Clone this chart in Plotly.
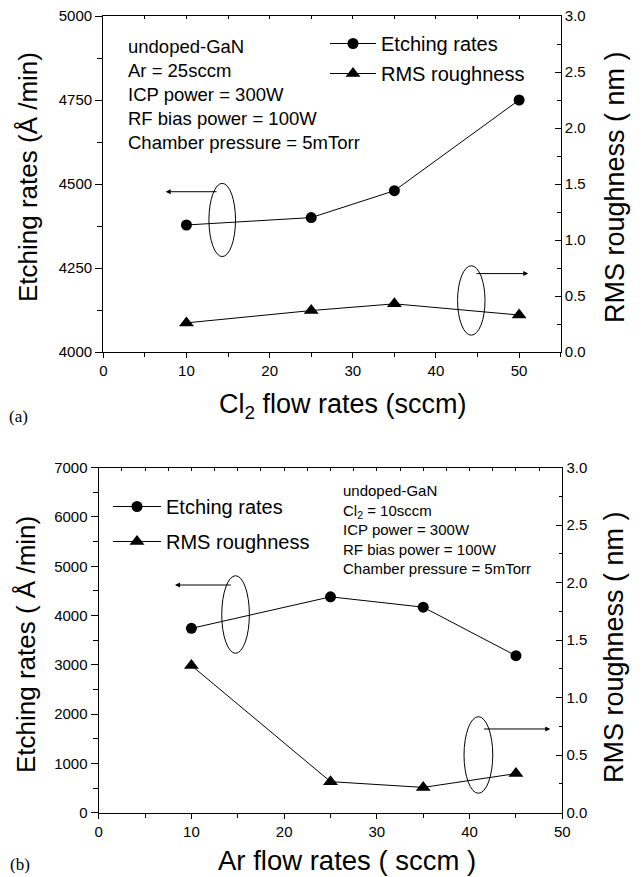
import plotly.graph_objects as go

# ---------------- data ----------------
cl2_flow = [10, 25, 35, 50]
etch_a = [4378, 4400, 4480, 4750]
rms_a = [0.26, 0.37, 0.43, 0.33]

ar_flow = [10, 25, 35, 45]
etch_b = [3740, 4380, 4170, 3185]
rms_b = [1.28, 0.27, 0.22, 0.34]

series_names = ["Etching rates", "RMS roughness"]
cond_a = ["undoped-GaN", "Ar = 25sccm", "ICP power = 300W",
          "RF bias power = 100W", "Chamber pressure = 5mTorr"]
cond_b = ["undoped-GaN", "Cl<sub>2</sub> = 10sccm", "ICP power = 300W",
          "RF bias power = 100W", "Chamber pressure = 5mTorr"]

# ---------------- layout helpers ----------------
W, H = 643, 877
FONT = "Liberation Sans, Arial, sans-serif"


def px(x):
    return x / W


def py(y):
    return 1 - y / H


black = "black"
line_style = dict(color=black, width=1)

fig = go.Figure()

fig.add_trace(go.Scatter(x=cl2_flow, y=etch_a, mode="lines+markers", name=series_names[0],
                         line=line_style, marker=dict(symbol="circle", size=11, color=black),
                         xaxis="x", yaxis="y", legend="legend", legendgroup="a1"))
fig.add_trace(go.Scatter(x=cl2_flow, y=rms_a, mode="lines+markers", name=series_names[1],
                         line=line_style, marker=dict(symbol="triangle-up", size=13, color=black),
                         xaxis="x2", yaxis="y2", legend="legend", legendgroup="a2"))
fig.add_trace(go.Scatter(x=ar_flow, y=etch_b, mode="lines+markers", name=series_names[0],
                         line=line_style, marker=dict(symbol="circle", size=11, color=black),
                         xaxis="x3", yaxis="y3", legend="legend2", legendgroup="b1"))
fig.add_trace(go.Scatter(x=ar_flow, y=rms_b, mode="lines+markers", name=series_names[1],
                         line=line_style, marker=dict(symbol="triangle-up", size=13, color=black),
                         xaxis="x4", yaxis="y4", legend="legend2", legendgroup="b2"))

tickfont = dict(family=FONT, size=15, color=black)
common = dict(showgrid=False, zeroline=False, showline=True, linecolor=black, linewidth=1.3,
              tickcolor=black, tickwidth=1, tickfont=tickfont, automargin=False,
              ticklabeloverflow="allow")

top_xdom = [px(103.3), px(560.7)]
top_ydom = [py(352), py(16)]
bot_xdom = [px(98.7), px(562.3)]
bot_ydom = [py(812.7), py(467.7)]

fig.update_layout(
    template="none",
    width=W, height=H, margin=dict(l=0, r=0, t=0, b=0, pad=0, autoexpand=False),
    paper_bgcolor="white", plot_bgcolor="white",
    font=dict(family=FONT, color=black),
    hovermode=False,
    xaxis=dict(domain=top_xdom, anchor="y", range=[0, 55], tick0=0, dtick=10,
               ticks="outside", ticklen=5,
               minor=dict(dtick=5, ticks="outside", ticklen=4, tickcolor=black), **common),
    xaxis2=dict(domain=top_xdom, anchor="y2", overlaying="x", side="top", range=[0, 55],
                tick0=0, dtick=5, ticks="inside", ticklen=3, showticklabels=False, **common),
    yaxis=dict(domain=top_ydom, anchor="x", range=[4000, 5000], tick0=4000, dtick=250,
               ticks="outside", ticklen=7,
               minor=dict(dtick=125, ticks="outside", ticklen=5, tickcolor=black), **common),
    yaxis2=dict(domain=top_ydom, anchor="x2", overlaying="y", side="right", range=[0, 3],
                tick0=0, dtick=0.5, tickformat=".1f", ticks="inside", ticklen=6,
                minor=dict(dtick=0.25, ticks="inside", ticklen=3.5, tickcolor=black), **common),
    xaxis3=dict(domain=bot_xdom, anchor="y3", range=[0, 50], tick0=0, dtick=10,
                ticks="outside", ticklen=5,
                minor=dict(dtick=5, ticks="outside", ticklen=4, tickcolor=black), **common),
    xaxis4=dict(domain=bot_xdom, anchor="y4", overlaying="x3", side="top", range=[0, 50],
                tick0=0, dtick=2.5, ticks="inside", ticklen=3, showticklabels=False, **common),
    yaxis3=dict(domain=bot_ydom, anchor="x3", range=[0, 7000], tick0=0, dtick=1000,
                ticks="outside", ticklen=7,
                minor=dict(dtick=500, ticks="outside", ticklen=5, tickcolor=black), **common),
    yaxis4=dict(domain=bot_ydom, anchor="x4", overlaying="y3", side="right", range=[0, 3],
                tick0=0, dtick=0.5, tickformat=".1f", ticks="inside", ticklen=6,
                minor=dict(dtick=0.25, ticks="inside", ticklen=3.5, tickcolor=black), **common),
    legend=dict(x=px(325), y=py(24), xanchor="left", yanchor="top", bgcolor="rgba(0,0,0,0)",
                font=dict(family=FONT, size=20, color=black), itemwidth=46, borderwidth=0,
                traceorder="grouped", tracegroupgap=1),
    legend2=dict(x=px(108), y=py(487), xanchor="left", yanchor="top", bgcolor="rgba(0,0,0,0)",
                 font=dict(family=FONT, size=20, color=black), itemwidth=48, borderwidth=0,
                 traceorder="grouped", tracegroupgap=6),
    showlegend=True,
)

annotations = []
annotations += [
    dict(text="Etching rates (Å /min)", x=px(28), y=py(177), xref="paper", yref="paper",
         textangle=-90, showarrow=False, font=dict(size=26), xanchor="center", yanchor="middle"),
    dict(text="RMS roughness ( nm )", x=px(615), y=py(187), xref="paper", yref="paper",
         textangle=-90, showarrow=False, font=dict(size=27), xanchor="center", yanchor="middle"),
    dict(text="Cl<sub>2</sub> flow rates (sccm)", x=px(343), y=py(406), xref="paper", yref="paper",
         showarrow=False, font=dict(size=27), xanchor="center", yanchor="middle"),
    dict(text="(a)", x=px(18), y=py(416), xref="paper", yref="paper", showarrow=False,
         font=dict(size=17, family="Liberation Serif, Times New Roman, serif"),
         xanchor="center", yanchor="middle"),
    dict(text="Etching rates ( Å /min)", x=px(26), y=py(645), xref="paper", yref="paper",
         textangle=-90, showarrow=False, font=dict(size=26), xanchor="center", yanchor="middle"),
    dict(text="RMS roughness ( nm )", x=px(614), y=py(647), xref="paper", yref="paper",
         textangle=-90, showarrow=False, font=dict(size=27), xanchor="center", yanchor="middle"),
    dict(text="Ar flow rates ( sccm )", x=px(347), y=py(860), xref="paper", yref="paper",
         showarrow=False, font=dict(size=27.5), xanchor="center", yanchor="middle"),
    dict(text="(b)", x=px(20), y=py(864), xref="paper", yref="paper", showarrow=False,
         font=dict(size=17, family="Liberation Serif, Times New Roman, serif"),
         xanchor="center", yanchor="middle"),
]
annotations += [
    dict(text="<br>".join(cond_a), x=px(126), y=py(34), xref="paper", yref="paper",
         showarrow=False, align="left", xanchor="left", yanchor="top", font=dict(size=18.5)),
    dict(text="<br>".join(cond_b), x=px(341), y=py(480), xref="paper", yref="paper",
         showarrow=False, align="left", xanchor="left", yanchor="top", font=dict(size=15)),
]
arrow = dict(text="", showarrow=True, arrowhead=2, arrowsize=1, arrowwidth=1,
             arrowcolor=black, standoff=0, startstandoff=0)
annotations += [
    dict(x=7.5, y=4477, xref="x", yref="y", ax=13.8, ay=4477, axref="x", ayref="y", **arrow),
    dict(x=51.1, y=0.70, xref="x2", yref="y2", ax=44.7, ay=0.70, axref="x2", ayref="y2", **arrow),
    dict(x=8.23, y=4620, xref="x3", yref="y3", ax=14.4, ay=4620, axref="x3", ayref="y3", **arrow),
    dict(x=48.7, y=0.728, xref="x4", yref="y4", ax=41.4, ay=0.728, axref="x4", ayref="y4", **arrow),
]
fig.update_layout(annotations=annotations)

ell = dict(type="circle", line=dict(color=black, width=1), fillcolor="rgba(0,0,0,0)")
fig.update_layout(shapes=[
    dict(xref="x", yref="y", x0=12.7, x1=15.9, y0=4284, y1=4502, **ell),
    dict(xref="x2", yref="y2", x0=42.6, x1=45.9, y0=0.15, y1=0.77, **ell),
    dict(xref="x3", yref="y3", x0=13.27, x1=16.25, y0=3234, y1=4808, **ell),
    dict(xref="x4", yref="y4", x0=39.4, x1=42.5, y0=0.169, y1=0.835, **ell),
])

# remove the default 8px page margin so the figure fills the 643x877 window exactly
fig.write_html("out.html", config={"displayModeBar": False},
               post_script="document.body.style.margin = '0px';")
